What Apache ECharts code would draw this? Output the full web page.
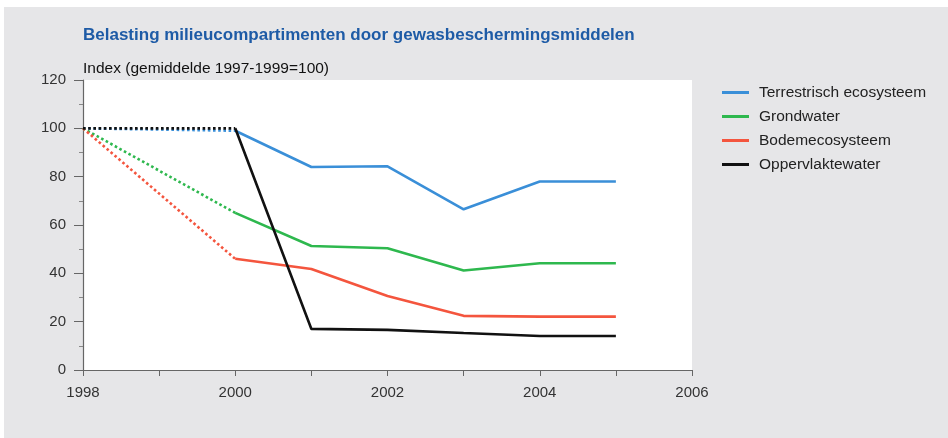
<!DOCTYPE html>
<html>
<head>
<meta charset="utf-8">
<script src="https://cdn.jsdelivr.net/npm/echarts@6/dist/echarts.min.js"></script>
<style>
  html, body { margin: 0; padding: 0; background: #fff; }
  #chart { width: 948px; height: 438px; }
</style>
</head>
<body>
<div id="chart"></div>
<script>
  // values
  const years = [1998, 2000, 2001, 2002, 2003, 2004, 2005];
  const names = ['Terrestrisch ecosysteem', 'Grondwater', 'Bodemecosysteem', 'Oppervlaktewater'];
  const terrestrisch = [100, 99, 84, 84.3, 66.5, 78, 78];
  const grondwater = [100, 65, 51.3, 50.4, 41.2, 44.2, 44.2];
  const bodem = [100, 46, 41.8, 30.6, 22.4, 22.1, 22.1];
  const oppervlakte = [100, 100, 17, 16.6, 15.3, 14.1, 14.1];
  const colors = ['#3a8fd8', '#2eb84e', '#f4553e', '#111111'];
  const yTicks = [0, 20, 40, 60, 80, 100, 120];
  const xTicks = [1998, 2000, 2002, 2004, 2006];

  const font = 'Liberation Sans, Arial, sans-serif';
  const chart = echarts.init(document.getElementById('chart'));
  const all = [terrestrisch, grondwater, bodem, oppervlakte];

  let series = [];
  all.forEach((vals, i) => {
    // dotted bit 1998-2000
    series.push({
      name: names[i],
      type: 'line',
      symbol: 'none',
      z: i === 3 ? 4 : 3,
      lineStyle: { color: colors[i], width: 2.6, type: [2.6, 2.6] },
      data: [[years[0], vals[0]], [years[1], vals[1]]]
    });
    // solid from 2000 on
    series.push({
      name: names[i],
      type: 'line',
      symbol: 'none',
      z: 3,
      lineStyle: { color: colors[i], width: 2.6 },
      data: years.slice(1).map((y, k) => [y, vals[k + 1]])
    });
  });

  const option = {
    backgroundColor: '#ffffff',
    animation: false,
    textStyle: { fontFamily: font },
    graphic: [
      {
        type: 'rect', z: -10, silent: true,
        shape: { x: 4, y: 7, width: 944, height: 431 },
        style: { fill: '#e6e6e8' }
      }
    ],
    title: [
      {
        text: 'Belasting milieucompartimenten door gewasbeschermingsmiddelen',
        left: 83, top: 27, padding: 0,
        textStyle: { color: '#1e5ba6', fontSize: 17, fontWeight: 'bold', fontFamily: font }
      },
      {
        text: 'Index (gemiddelde 1997-1999=100)',
        left: 83, top: 61, padding: 0,
        textStyle: { color: '#111', fontSize: 15.5, fontWeight: 'normal', fontFamily: font }
      }
    ],
    legend: {
      orient: 'vertical',
      left: 722, top: 84, padding: 0,
      itemWidth: 27, itemHeight: 3, itemGap: 7,
      icon: 'rect',
      data: names.map((n, i) => ({ name: n, itemStyle: { color: colors[i] } })),
      textStyle: { color: '#222', fontSize: 15.5, lineHeight: 17, padding: [0, 0, 0, 5] }
    },
    grid: {
      left: 83, right: 256, top: 80, bottom: 68,
      show: true, backgroundColor: '#ffffff', borderWidth: 0
    },
    xAxis: {
      type: 'value', min: xTicks[0], max: xTicks[xTicks.length - 1], interval: 2,
      axisLine: { onZero: false, lineStyle: { color: '#666', width: 1.2 } },
      axisTick: { show: true, length: 6, lineStyle: { color: '#666' } },
      minorTick: { show: true, splitNumber: 2, length: 6, lineStyle: { color: '#666' } },
      splitLine: { show: false },
      axisLabel: { color: '#333', fontSize: 15, margin: 15, formatter: v => String(v) }
    },
    yAxis: {
      type: 'value', min: yTicks[0], max: yTicks[yTicks.length - 1], interval: 20,
      axisLine: { show: true, lineStyle: { color: '#666', width: 1.2 } },
      axisTick: { show: true, length: 9, lineStyle: { color: '#666' } },
      minorTick: { show: true, splitNumber: 2, length: 4, lineStyle: { color: '#888' } },
      splitLine: { show: false },
      axisLabel: { color: '#333', fontSize: 15, margin: 17 }
    },
    series: series
  };
  chart.setOption(option);
</script>
</body>
</html>
